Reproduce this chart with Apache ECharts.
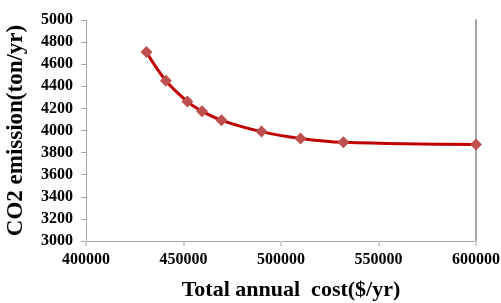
<!DOCTYPE html>
<html>
<head>
<meta charset="utf-8">
<script src="https://cdn.jsdelivr.net/npm/echarts@6/dist/echarts.min.js"></script>
<style>
html,body{margin:0;padding:0;background:#fff;}
#chart{width:501px;height:303px;}
</style>
</head>
<body>
<div id="chart"></div>
<script>
// values
var cost = [431000, 441000, 452000, 459500, 469500, 490000, 510000, 532000, 600000];
var emission = [4710, 4450, 4262, 4175, 4092, 3990, 3928, 3893, 3873];

var points = cost.map(function (c, i) { return [c, emission[i]]; });

var font = '"Liberation Serif", "Times New Roman", serif';
var e1 = echarts.init(document.getElementById('chart'));
e1.setOption({
    animation: false,
    grid: {
        left: 86,
        right: 25,
        top: 20,
        bottom: 62,
        containLabel: false,
        outerBoundsMode: 'none'
    },
    xAxis: {
        type: 'value',
        min: 400000,
        max: 600000,
        interval: 50000,
        name: 'Total annual  cost($/yr)',
        nameLocation: 'middle',
        nameGap: 38,
        nameTextStyle: {
            fontFamily: font,
            fontWeight: 'bold',
            fontSize: 22,
            color: '#000',
            padding: [0, 0, 0, 20]
        },
        axisLine: {
            lineStyle: { color: '#a6a6a6', width: 1 }
        },
        axisTick: {
            show: true,
            length: 5,
            lineStyle: { color: '#d0d0d0', width: 2 }
        },
        axisLabel: {
            fontFamily: font,
            fontWeight: 'bold',
            fontSize: 16,
            color: '#000',
            margin: 11,
            formatter: function (v) { return String(v); }
        },
        splitLine: { show: false }
    },
    yAxis: [{
        type: 'value',
        min: 3000,
        max: 5000,
        interval: 200,
        name: 'CO2 emission(ton/yr)',
        nameLocation: 'middle',
        nameGap: 58,
        nameTextStyle: {
            fontFamily: font,
            fontWeight: 'bold',
            fontSize: 23,
            color: '#000'
        },
        axisLine: {
            show: true,
            lineStyle: { color: '#a6a6a6', width: 1 }
        },
        axisTick: {
            show: true,
            length: 5,
            lineStyle: { color: '#a6a6a6' }
        },
        axisLabel: {
            fontFamily: font,
            fontWeight: 'bold',
            fontSize: 16,
            color: '#000',
            margin: 13,
            formatter: function (v) { return String(v); }
        },
        splitLine: { show: false }
    }, {
        type: 'value',
        position: 'right',
        min: 3000,
        max: 5000,
        axisLine: {
            show: true,
            lineStyle: { color: '#a6a6a6', width: 2 }
        },
        axisTick: { show: false },
        axisLabel: { show: false },
        splitLine: { show: false }
    }],
    series: [{
        type: 'line',
        data: points,
        smooth: 0.4,
        symbol: 'diamond',
        symbolSize: 12,
        itemStyle: {
            color: '#c0504d'
        },
        lineStyle: {
            color: '#c00000',
            width: 3
        }
    }]
});
</script>
</body>
</html>
